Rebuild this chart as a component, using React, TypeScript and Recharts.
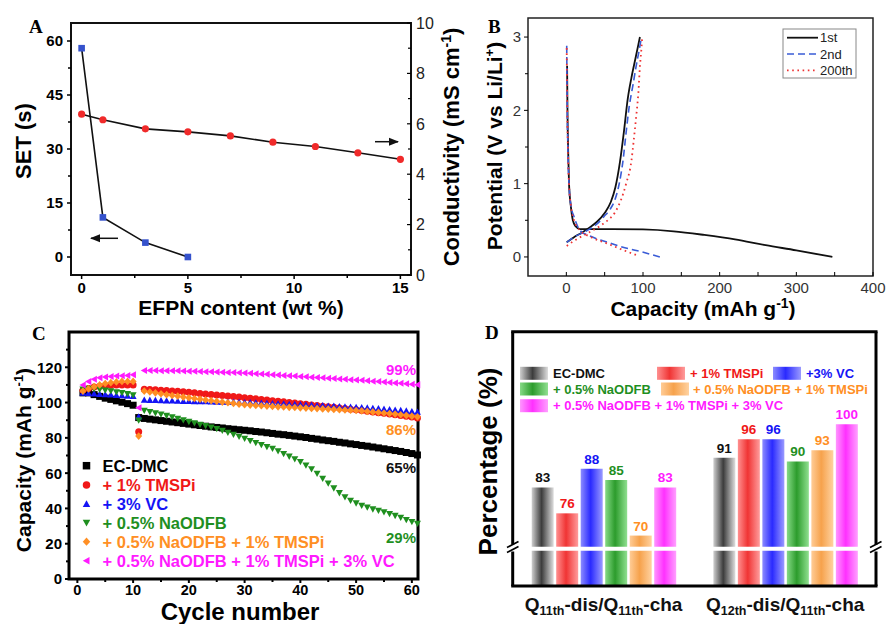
import React from 'react';
import {
  LineChart, Line, XAxis, YAxis, ReferenceArea,
  ScatterChart, Scatter, BarChart, Bar, LabelList,
} from 'recharts';

const SANS = '"Liberation Sans", Arial, sans-serif';
const SERIF = '"Liberation Serif", "Times New Roman", serif';

// ---- panel A: SET and conductivity vs EFPN content
const efpnSet = [0, 1, 3, 5];
const setSeconds = [58, 11, 4, 0];
const efpnCond = [0, 1, 3, 5, 7, 9, 11, 13, 15];
const conductivity = [6.38, 6.16, 5.8, 5.68, 5.52, 5.27, 5.1, 4.85, 4.59];

// ---- panel B: charge / discharge profiles
const cap1Dis = [1, 1.5, 2.5, 3.5, 6, 8.5, 12, 18, 30, 60, 100, 140, 180, 220, 260, 300, 347];
const pot1Dis = [2.61, 2.0, 1.4, 1.0, 0.68, 0.5, 0.42, 0.38, 0.38, 0.38, 0.375, 0.35, 0.3, 0.24, 0.16, 0.09, 0];
const cap1Cha = [0.5, 10, 20, 30, 40, 50, 58, 64, 70, 75, 80, 85, 90, 94, 96];
const pot1Cha = [0.2, 0.27, 0.33, 0.4, 0.48, 0.6, 0.75, 0.95, 1.3, 1.7, 2.15, 2.45, 2.7, 2.9, 3.0];
const cap2Dis = [0.5, 1, 2, 3.5, 6, 10, 18, 30, 54, 75, 98, 122];
const pot2Dis = [2.88, 2.2, 1.5, 1.0, 0.7, 0.55, 0.36, 0.29, 0.2, 0.13, 0.07, 0];
const cap2Cha = [0.5, 10, 27, 40, 49, 57, 63, 69, 74, 78, 82, 87, 91, 95, 98];
const pot2Cha = [0.2, 0.27, 0.36, 0.45, 0.55, 0.65, 0.77, 1.0, 1.32, 1.7, 2.05, 2.35, 2.6, 2.82, 3.0];
const cap3Dis = [0.5, 1, 2, 3.5, 6, 10, 18, 30, 54, 75, 93];
const pot3Dis = [2.85, 2.2, 1.5, 1.0, 0.7, 0.5, 0.36, 0.28, 0.18, 0.09, 0.02];
const cap3Cha = [0.5, 10, 27, 45, 54, 63, 71, 78, 85, 88, 91, 94, 96, 98, 99];
const pot3Cha = [0.15, 0.22, 0.32, 0.43, 0.5, 0.6, 0.77, 1.0, 1.32, 1.6, 1.9, 2.25, 2.6, 2.85, 3.0];

// ---- panel C: cycling (cycles 1..61)
const cycles = Array.from({ length: 61 }, (_, i) => i + 1);
const capEcDmc = [105.5, 105.5, 104.5, 103.5, 102.5, 101.8, 101, 100.2, 99.4, 98.5,
  91.5, 91, 90.6, 90.2, 89.8, 89.4, 89, 88.6, 88.2, 87.8,
  87.4, 87, 86.6, 86.2, 85.9, 85.6, 85.2, 84.9, 84.6, 84.3,
  84, 83.6, 83.3, 82.9, 82.5, 82.1, 81.8, 81.4, 81, 80.6,
  80.2, 79.7, 79.3, 78.8, 78.4, 78, 77.5, 77.1, 76.6, 76.2,
  75.7, 75.3, 74.8, 74.3, 73.8, 73.3, 72.8, 72.3, 71.7, 71.1, 70.3];
const capTmspi = [107, 108, 108.8, 109.3, 109.6, 109.8, 110, 110, 110, 110,
  83.5, 107.5, 107.4, 107.2, 107, 106.8, 106.6, 106.4, 106.1, 105.8,
  105.5, 105.2, 104.9, 104.6, 104.3, 104, 103.7, 103.4, 103.1, 102.7,
  102.4, 102.1, 101.8, 101.4, 101.1, 100.7, 100.4, 100, 99.7, 99.3,
  99, 98.6, 98.3, 97.9, 97.6, 97.3, 96.9, 96.6, 96.2, 95.9,
  95.5, 95.1, 94.7, 94.3, 93.9, 93.5, 93.1, 92.7, 92.3, 91.8, 91.3];
const capVc = [105.5, 105.3, 105, 104.8, 104.6, 104.4, 104.2, 104, 103.8, 103.6,
  92, 101.5, 101.4, 101.3, 101.2, 101.1, 101, 100.9, 100.8, 100.8,
  100.7, 100.6, 100.6, 100.5, 100.4, 100.4, 100.3, 100.3, 100.2, 100.1,
  100, 99.9, 99.8, 99.6, 99.5, 99.4, 99.3, 99.1, 99, 98.9,
  98.7, 98.6, 98.4, 98.3, 98.1, 98, 97.8, 97.7, 97.5, 97.4,
  97.2, 97, 96.8, 96.6, 96.3, 96.1, 95.8, 95.6, 95.3, 95, 94.7];
const capNaodfb = [107.5, 108, 107.8, 107.4, 107, 106.5, 106, 105.5, 105, 104.3,
  90, 95.5, 94.8, 94.1, 93.4, 92.6, 91.8, 91, 90.1, 89.2,
  88.4, 87.6, 86.8, 86, 85.1, 84.1, 83, 81.9, 80.8, 79.6,
  78.4, 77.2, 76.1, 75, 73.9, 72.5, 71, 69.5, 68, 66.4,
  64.5, 62.3, 59.8, 57, 54.3, 51.5, 48.8, 46.5, 44.5, 43,
  41.7, 40.6, 39.6, 38.8, 38, 37, 35.9, 34.8, 33.6, 32.4, 31.5];
const capNaTm = [106.5, 107.8, 109, 110, 110.8, 111.3, 111.7, 112, 112, 112,
  81, 106.5, 106, 105.5, 105, 104.5, 104, 103.6, 103.1, 102.7,
  102.3, 101.9, 101.5, 101.1, 100.7, 100.3, 99.9, 99.5, 99.1, 98.8,
  98.6, 98.4, 98.2, 98, 97.8, 97.6, 97.5, 97.3, 97.2, 97,
  96.9, 96.7, 96.6, 96.4, 96.3, 96.1, 96, 95.8, 95.7, 95.5,
  95.3, 95, 94.7, 94.4, 94.1, 93.8, 93.5, 93.1, 92.7, 92.3, 91.9];
const capAll = [110, 112, 113.2, 114, 114.5, 114.8, 115, 115.2, 115.4, 115.8,
  97, 118.2, 118.2, 118.2, 118.1, 118.1, 118, 118, 117.9, 117.8,
  117.7, 117.6, 117.5, 117.4, 117.3, 117.2, 117.1, 117, 116.9, 116.8,
  116.6, 116.4, 116.2, 116, 115.8, 115.6, 115.4, 115.2, 115, 114.8,
  114.6, 114.4, 114.2, 114, 113.8, 113.6, 113.4, 113.2, 113, 112.8,
  112.6, 112.4, 112.1, 111.9, 111.6, 111.4, 111.1, 110.9, 110.6, 110.4, 110.1];
const retentionLabels = ['99%', '86%', '65%', '29%'];

// ---- panel D: efficiency ratios
const ratioGroups = ['Q11th-dis/Q11th-cha', 'Q12th-dis/Q11th-cha'];
const pctEcDmc = [83, 91];
const pctTmspi = [76, 96];
const pctVc = [88, 96];
const pctNaodfb = [85, 90];
const pctNaTm = [70, 93];
const pctAll = [83, 100];

const C_BLACK = '#000000';
const C_RED = '#f01818';
const C_BLUE = '#1414f5';
const C_GREEN = '#1f8f1f';
const C_ORANGE = '#ff8f24';
const C_MAGENTA = '#ff1aff';

const cSeries = [
  { name: 'EC-DMC', color: C_BLACK, kind: 'square', values: capEcDmc },
  { name: '+ 1% TMSPi', color: C_RED, kind: 'circle', values: capTmspi },
  { name: '+ 3% VC', color: C_BLUE, kind: 'up', values: capVc },
  { name: '+ 0.5% NaODFB', color: C_GREEN, kind: 'down', values: capNaodfb },
  { name: '+ 0.5% NaODFB + 1% TMSPi', color: C_ORANGE, kind: 'diamond', values: capNaTm },
  { name: '+ 0.5% NaODFB + 1% TMSPi + 3% VC', color: C_MAGENTA, kind: 'left', values: capAll },
];

const dSeries = [
  { key: 'ecdmc', name: 'EC-DMC', text: '#111', grad: 'gGray', values: pctEcDmc },
  { key: 'tmspi', name: '+ 1% TMSPi', text: C_RED, grad: 'gRed', values: pctTmspi },
  { key: 'vc', name: '+3% VC', text: C_BLUE, grad: 'gBlue', values: pctVc },
  { key: 'naodfb', name: '+ 0.5% NaODFB', text: C_GREEN, grad: 'gGreen', values: pctNaodfb },
  { key: 'natm', name: '+ 0.5% NaODFB + 1% TMSPi', text: C_ORANGE, grad: 'gOrange', values: pctNaTm },
  { key: 'all', name: '+ 0.5% NaODFB + 1% TMSPi + 3% VC', text: C_MAGENTA, grad: 'gMagenta', values: pctAll },
];

const dData = ratioGroups.map((g, i) => {
  const row: Record<string, any> = { name: g };
  dSeries.forEach((s) => { row[s.key] = s.values[i]; });
  return row;
});

const pts = (xs: number[], ys: number[]) => xs.map((x, i) => ({ x, y: ys[i] }));

// ---------- tick helper: tickSize/tickMargin are 0, so x/y is the axis point
type TickCfg = {
  side: 'left' | 'right' | 'bottom';
  majors: number[];
  major: number;
  minor: number;
  inward?: boolean;
  gap: number;
  size: number;
  weight?: string;
  color?: string;
  lw?: number;
};

const makeTick = (c: TickCfg) => (props: any) => {
  const { x, y, payload } = props;
  const v = Number(payload.value);
  const isMajor = c.majors.some((m) => Math.abs(m - v) < 1e-6);
  const len = isMajor ? c.major : c.minor;
  const out = c.inward ? 0 : len;
  const label = isMajor ? String(v) : '';
  const tp = { fontFamily: SANS, fontSize: c.size, fontWeight: c.weight ?? 'normal', fill: c.color ?? '#000' };
  const lw = c.lw ?? 1;
  if (c.side === 'left') {
    const d = c.inward ? 1 : -1;
    return (
      <g>
        <line x1={x} y1={y} x2={x + d * len} y2={y} stroke="#000" strokeWidth={lw} />
        {label && <text x={x - out - c.gap} y={y} dy="0.36em" textAnchor="end" {...tp}>{label}</text>}
      </g>
    );
  }
  if (c.side === 'right') {
    const d = c.inward ? -1 : 1;
    return (
      <g>
        <line x1={x} y1={y} x2={x + d * len} y2={y} stroke="#000" strokeWidth={lw} />
        {label && <text x={x + out + c.gap} y={y} dy="0.36em" textAnchor="start" {...tp}>{label}</text>}
      </g>
    );
  }
  const d = c.inward ? -1 : 1;
  return (
    <g>
      <line x1={x} y1={y} x2={x} y2={y + d * len} stroke="#000" strokeWidth={lw} />
      {label && <text x={x} y={y + out + c.gap} dy="0.72em" textAnchor="middle" {...tp}>{label}</text>}
    </g>
  );
};

const Marker = ({ cx, cy, kind, color, s }: any) => {
  const h = s / 2;
  switch (kind) {
    case 'square':
      return <rect x={cx - h} y={cy - h} width={s} height={s} fill={color} />;
    case 'circle':
      return <circle cx={cx} cy={cy} r={h} fill={color} />;
    case 'up':
      return <polygon points={`${cx},${cy - h} ${cx + h},${cy + h * 0.8} ${cx - h},${cy + h * 0.8}`} fill={color} />;
    case 'down':
      return <polygon points={`${cx},${cy + h} ${cx + h},${cy - h * 0.8} ${cx - h},${cy - h * 0.8}`} fill={color} />;
    case 'diamond':
      return <polygon points={`${cx},${cy - h * 1.1} ${cx + h},${cy} ${cx},${cy + h * 1.1} ${cx - h},${cy}`} fill={color} />;
    default:
      return <polygon points={`${cx - h},${cy} ${cx + h * 0.8},${cy - h} ${cx + h * 0.8},${cy + h}`} fill={color} />;
  }
};

const Gradients = () => {
  const g = (id: string, edge: string, mid: string, edge2: string) => (
    <linearGradient id={id} x1="0" y1="0" x2="1" y2="0">
      <stop offset="0%" stopColor={edge} />
      <stop offset="45%" stopColor={mid} />
      <stop offset="100%" stopColor={edge2} />
    </linearGradient>
  );
  return (
    <svg width={0} height={0} style={{ position: 'absolute' }}>
      <defs>
        {g('gGray', '#cfcfcf', '#3c3c3c', '#dedede')}
        {g('gRed', '#ff9090', '#f03434', '#ff9c9c')}
        {g('gBlue', '#8c8cff', '#2a2aff', '#9a9aff')}
        {g('gGreen', '#86da86', '#2c9c2c', '#90e090')}
        {g('gOrange', '#ffcc96', '#f6a24c', '#ffd2a0')}
        {g('gMagenta', '#ff96ff', '#ff30ff', '#ffa0ff')}
      </defs>
    </svg>
  );
};

const PanelA = () => (
  <LineChart width={470} height={300} margin={{ top: 23, left: 31, right: 19, bottom: 0 }}>
    <XAxis type="number" dataKey="x" domain={[-0.5, 15.5]} ticks={[0, 2.5, 5, 7.5, 10, 12.5, 15]}
      interval={0} axisLine={false} tickLine={false} tickSize={0} tickMargin={0} height={25}
      tick={makeTick({ side: 'bottom', majors: [0, 5, 10, 15], major: 4, minor: 3, gap: 3, size: 15, weight: 'bold', lw: 1.5 })} />
    <YAxis yAxisId="set" type="number" domain={[-5, 65]} ticks={[0, 7.5, 15, 22.5, 30, 37.5, 45, 52.5, 60]}
      interval={0} axisLine={false} tickLine={false} tickSize={0} tickMargin={0} width={40}
      tick={makeTick({ side: 'left', majors: [0, 15, 30, 45, 60], major: 4, minor: 3, gap: 4, size: 15, weight: 'bold', lw: 1.5 })} />
    <YAxis yAxisId="cond" orientation="right" type="number" domain={[0, 10]} ticks={[0, 1, 2, 3, 4, 5, 6, 7, 8, 9, 10]}
      interval={0} axisLine={false} tickLine={false} tickSize={0} tickMargin={0} width={40}
      tick={makeTick({ side: 'right', majors: [0, 2, 4, 6, 8, 10], major: 4, minor: 3, inward: true, gap: 5, size: 16, color: '#222', lw: 1.2 })} />
    <ReferenceArea yAxisId="set" x1={-0.5} x2={15.5} y1={-5} y2={65} fill="none" stroke="#111" strokeWidth={2} />
    <Line yAxisId="set" data={pts(efpnSet, setSeconds)} dataKey="y" type="linear" stroke="#111" strokeWidth={1.6}
      isAnimationActive={false} activeDot={false}
      dot={(p: any) => <rect key={`s${p.index}`} x={p.cx - 3.3} y={p.cy - 3.3} width={6.6} height={6.6} fill="#3552cc" />} />
    <Line yAxisId="cond" data={pts(efpnCond, conductivity)} dataKey="y" type="linear" stroke="#111" strokeWidth={1.6}
      isAnimationActive={false} activeDot={false}
      dot={(p: any) => <circle key={`c${p.index}`} cx={p.cx} cy={p.cy} r={3.6} fill="#f02a2a" />} />
  </LineChart>
);

const bCurves = [
  { id: '1st', color: '#111111', dash: undefined, width: 1.8, dis: pts(cap1Dis, pot1Dis), cha: pts(cap1Cha, pot1Cha) },
  { id: '2nd', color: '#3a5cd6', dash: '7 4', width: 1.6, dis: pts(cap2Dis, pot2Dis), cha: pts(cap2Cha, pot2Cha) },
  { id: '200th', color: '#ee3333', dash: '1.6 3.6', width: 1.8, dis: pts(cap3Dis, pot3Dis), cha: pts(cap3Cha, pot3Cha) },
];

const PanelB = () => (
  <LineChart width={417} height={300} margin={{ top: 18, left: 18, right: 14, bottom: 0 }}>
    <XAxis type="number" dataKey="x" domain={[-50, 400]} ticks={[0, 50, 100, 150, 200, 250, 300, 350, 400]}
      interval={0} axisLine={false} tickLine={false} tickSize={0} tickMargin={0} height={24}
      tick={makeTick({ side: 'bottom', majors: [0, 100, 200, 300, 400], major: 4, minor: 4, inward: true, gap: 6, size: 15, color: '#333' })} />
    <YAxis type="number" domain={[-0.26, 3.26]} ticks={[0, 0.5, 1, 1.5, 2, 2.5, 3]}
      interval={0} axisLine={false} tickLine={false} tickSize={0} tickMargin={0} width={40}
      tick={makeTick({ side: 'left', majors: [0, 1, 2, 3], major: 4, minor: 3, gap: 3, size: 15, color: '#333' })} />
    <ReferenceArea x1={-50} x2={400} y1={-0.26} y2={3.26} fill="none" stroke="#222" strokeWidth={1.5} />
    {bCurves.map((c) => [
      <Line key={`${c.id}d`} data={c.dis} dataKey="y" type="monotone" stroke={c.color} strokeWidth={c.width}
        strokeDasharray={c.dash} dot={false} activeDot={false} isAnimationActive={false} />,
      <Line key={`${c.id}c`} data={c.cha} dataKey="y" type="monotone" stroke={c.color} strokeWidth={c.width}
        strokeDasharray={c.dash} dot={false} activeDot={false} isAnimationActive={false} />,
    ])}
  </LineChart>
);

const PanelC = () => (
  <ScatterChart width={450} height={300} margin={{ top: 22, left: 24, right: 32, bottom: 6 }}>
    <XAxis type="number" dataKey="x" domain={[-1.5, 61.1]} ticks={[0, 5, 10, 15, 20, 25, 30, 35, 40, 45, 50, 55, 60]}
      interval={0} axisLine={false} tickLine={false} tickSize={0} tickMargin={0} height={25}
      tick={makeTick({ side: 'bottom', majors: [0, 10, 20, 30, 40, 50, 60], major: 4, minor: 3, gap: 1.5, size: 14.5, weight: 'bold', lw: 2 })} />
    <YAxis type="number" dataKey="y" domain={[0, 140]} ticks={[0, 10, 20, 30, 40, 50, 60, 70, 80, 90, 100, 110, 120, 130]}
      interval={0} axisLine={false} tickLine={false} tickSize={0} tickMargin={0} width={45}
      tick={makeTick({ side: 'left', majors: [0, 20, 40, 60, 80, 100, 120], major: 4, minor: 3, gap: 3, size: 15, weight: 'bold', lw: 2 })} />
    <ReferenceArea x1={-1.5} x2={61.1} y1={0} y2={140} fill="none" stroke="#000" strokeWidth={3} />
    {cSeries.map((s) => (
      <Scatter key={s.name} data={pts(cycles, s.values)} isAnimationActive={false}
        shape={(p: any) => <Marker cx={p.cx} cy={p.cy} kind={s.kind} color={s.color} s={7} />} />
    ))}
  </ScatterChart>
);

const GroupTick = (props: any) => {
  const { x, y, payload } = props;
  const parts = String(payload.value).split(/(\d+th)/).filter(Boolean);
  let shift = 0;
  return (
    <text x={x} y={y + 25} textAnchor="middle" fontFamily={SANS} fontWeight="bold" fontSize={19} fill="#111">
      {parts.map((p, i) => {
        const sub = /\d+th/.test(p);
        const target = sub ? 4 : 0;
        const dy = target - shift;
        shift = target;
        return <tspan key={i} dy={dy} fontSize={sub ? 12.5 : 19}>{p}</tspan>;
      })}
    </text>
  );
};

const barProps = { barSize: 22, barGap: 2.5 };

const PanelDUpper = () => (
  <BarChart width={417} height={250} data={dData} margin={{ top: 21.7, left: 42.7, right: 11, bottom: 13.3 }} {...barProps}>
    <XAxis dataKey="name" hide />
    <YAxis type="number" domain={[67, 125]} hide />
    {dSeries.map((s) => (
      <Bar key={s.key} dataKey={s.key} fill={`url(#${s.grad})`} isAnimationActive={false}>
        <LabelList dataKey={s.key} position="top" offset={5} fill={s.text} fontSize={13.5} fontWeight="bold" fontFamily={SANS} />
      </Bar>
    ))}
  </BarChart>
);

const PanelDLower = () => (
  <BarChart width={417} height={84} data={dData} margin={{ top: 10.7, left: 42.7, right: 11, bottom: 0 }} {...barProps}>
    <XAxis dataKey="name" axisLine={false} tickLine={false} tickSize={0} tickMargin={0} height={38} interval={0} tick={<GroupTick />} />
    <YAxis type="number" domain={[0, 10]} allowDataOverflow hide />
    {dSeries.map((s) => (
      <Bar key={s.key} dataKey={s.key} fill={`url(#${s.grad})`} isAnimationActive={false} />
    ))}
  </BarChart>
);

const Overlay = () => {
  const bold = { fontFamily: SANS, fontWeight: 'bold' as const };
  const cRetY = [375, 435, 472.5, 543];
  const cRetColor = [C_MAGENTA, C_ORANGE, '#111', C_GREEN];
  const cLegY = [465.7, 485, 504, 522.7, 541.7, 560.7];
  const dLeg = [
    { sx: 520, tx: 553, y: 373.3 }, { sx: 657, tx: 690, y: 373.3 }, { sx: 773, tx: 806, y: 373.3 },
    { sx: 520, tx: 553, y: 389 }, { sx: 661, tx: 693, y: 389 }, { sx: 520, tx: 553, y: 405.7 },
  ];
  return (
    <svg width={887} height={624} style={{ position: 'absolute', left: 0, top: 0, pointerEvents: 'none' }}>
      <defs>
        <marker id="arr" viewBox="0 0 10 10" refX="9" refY="5" markerWidth="7" markerHeight="7" orient="auto-start-reverse">
          <path d="M0,1 L10,5 L0,9 z" fill="#111" />
        </marker>
      </defs>
      {/* panel letters */}
      <g fontFamily={SERIF} fontWeight="bold" fontSize={19} fill="#000">
        <text x={29} y={33}>A</text>
        <text x={488} y={33}>B</text>
        <text x={32} y={340}>C</text>
        <text x={485} y={339}>D</text>
      </g>

      {/* panel A */}
      <text transform="translate(31,141) rotate(-90)" textAnchor="middle" fontSize={22} {...bold}>SET (s)</text>
      <text transform="translate(459,147) rotate(-90)" textAnchor="middle" fontSize={22} {...bold}>
        Conductivity (mS cm<tspan dy={-8} fontSize={14}>-1</tspan><tspan dy={8}>)</tspan>
      </text>
      <text x={241} y={315} textAnchor="middle" fontSize={21} {...bold}>EFPN content (wt %)</text>
      <line x1={118} y1={238.3} x2={91} y2={238.3} stroke="#111" strokeWidth={1.5} markerEnd="url(#arr)" />
      <line x1={375} y1={141.7} x2={398} y2={141.7} stroke="#111" strokeWidth={1.5} markerEnd="url(#arr)" />

      {/* panel B */}
      <text transform="translate(502,146) rotate(-90)" textAnchor="middle" fontSize={21} {...bold}>
        Potential (V vs Li/Li<tspan dy={-8} fontSize={13}>+</tspan><tspan dy={8}>)</tspan>
      </text>
      <text x={703} y={316} textAnchor="middle" fontSize={21} {...bold}>
        Capacity (mAh g<tspan dy={-8} fontSize={14}>-1</tspan><tspan dy={8}>)</tspan>
      </text>
      <rect x={783} y={29} width={73} height={49} fill="#fff" stroke="#888" strokeWidth={1} />
      {bCurves.map((c, i) => (
        <g key={c.id}>
          <line x1={787} x2={818} y1={37.7 + i * 16.3} y2={37.7 + i * 16.3} stroke={c.color} strokeWidth={c.width} strokeDasharray={c.dash} />
          <text x={820} y={37.7 + i * 16.3} dy="0.36em" fontFamily={SANS} fontSize={13} fill="#222">{c.id}</text>
        </g>
      ))}

      {/* panel C */}
      <text transform="translate(31,460) rotate(-90)" textAnchor="middle" fontSize={21} {...bold}>
        Capacity (mAh g<tspan dy={-8} fontSize={13}>-1</tspan><tspan dy={8}>)</tspan>
      </text>
      <text x={240} y={620} textAnchor="middle" fontSize={24} {...bold}>Cycle number</text>
      {retentionLabels.map((t, i) => (
        <text key={t} x={416} y={cRetY[i]} textAnchor="end" fontSize={15} fill={cRetColor[i]} {...bold}>{t}</text>
      ))}
      {cSeries.map((s, i) => (
        <g key={s.name}>
          <Marker cx={86.5} cy={cLegY[i]} kind={s.kind} color={s.color} s={7.5} />
          <text x={102.5} y={cLegY[i]} dy="0.36em" fontSize={16.5} fill={s.color} {...bold}>{s.name}</text>
        </g>
      ))}

      {/* panel D */}
      <text transform="translate(497,461.5) rotate(-90)" textAnchor="middle" fontSize={26} {...bold}>Percentage (%)</text>
      {dSeries.map((s, i) => (
        <g key={s.key}>
          <rect x={dLeg[i].sx} y={dLeg[i].y - 6.5} width={28} height={13} fill={`url(#${s.grad})`} />
          <text x={dLeg[i].tx} y={dLeg[i].y} dy="0.36em" fontSize={13} fill={s.text} {...bold}>{s.name}</text>
        </g>
      ))}
      <g stroke="#000" strokeWidth={3} fill="none">
        <line x1={511.2} y1={331.7} x2={877.5} y2={331.7} />
        <line x1={511.2} y1={586} x2={877.5} y2={586} />
        <line x1={512.7} y1={331.7} x2={512.7} y2={544.5} />
        <line x1={512.7} y1={551.5} x2={512.7} y2={586} />
        <line x1={876} y1={331.7} x2={876} y2={544.5} />
        <line x1={876} y1={551.5} x2={876} y2={586} />
      </g>
      <g stroke="#000" strokeWidth={1.6}>
        <line x1={507} y1={547.5} x2={518.5} y2={541.5} />
        <line x1={507} y1={552.5} x2={518.5} y2={546.5} />
        <line x1={870} y1={547.5} x2={881.5} y2={541.5} />
        <line x1={870} y1={552.5} x2={881.5} y2={546.5} />
      </g>
    </svg>
  );
};

export default function App() {
  return (
    <div style={{ position: 'absolute', left: 0, top: 0, width: 887, height: 624, background: '#fff', overflow: 'hidden' }}>
      <Gradients />
      <div style={{ position: 'absolute', left: 0, top: 0 }}><PanelA /></div>
      <div style={{ position: 'absolute', left: 470, top: 0 }}><PanelB /></div>
      <div style={{ position: 'absolute', left: 0, top: 310 }}><PanelC /></div>
      <div style={{ position: 'absolute', left: 470, top: 310 }}><PanelDUpper /></div>
      <div style={{ position: 'absolute', left: 470, top: 540 }}><PanelDLower /></div>
      <Overlay />
    </div>
  );
}
